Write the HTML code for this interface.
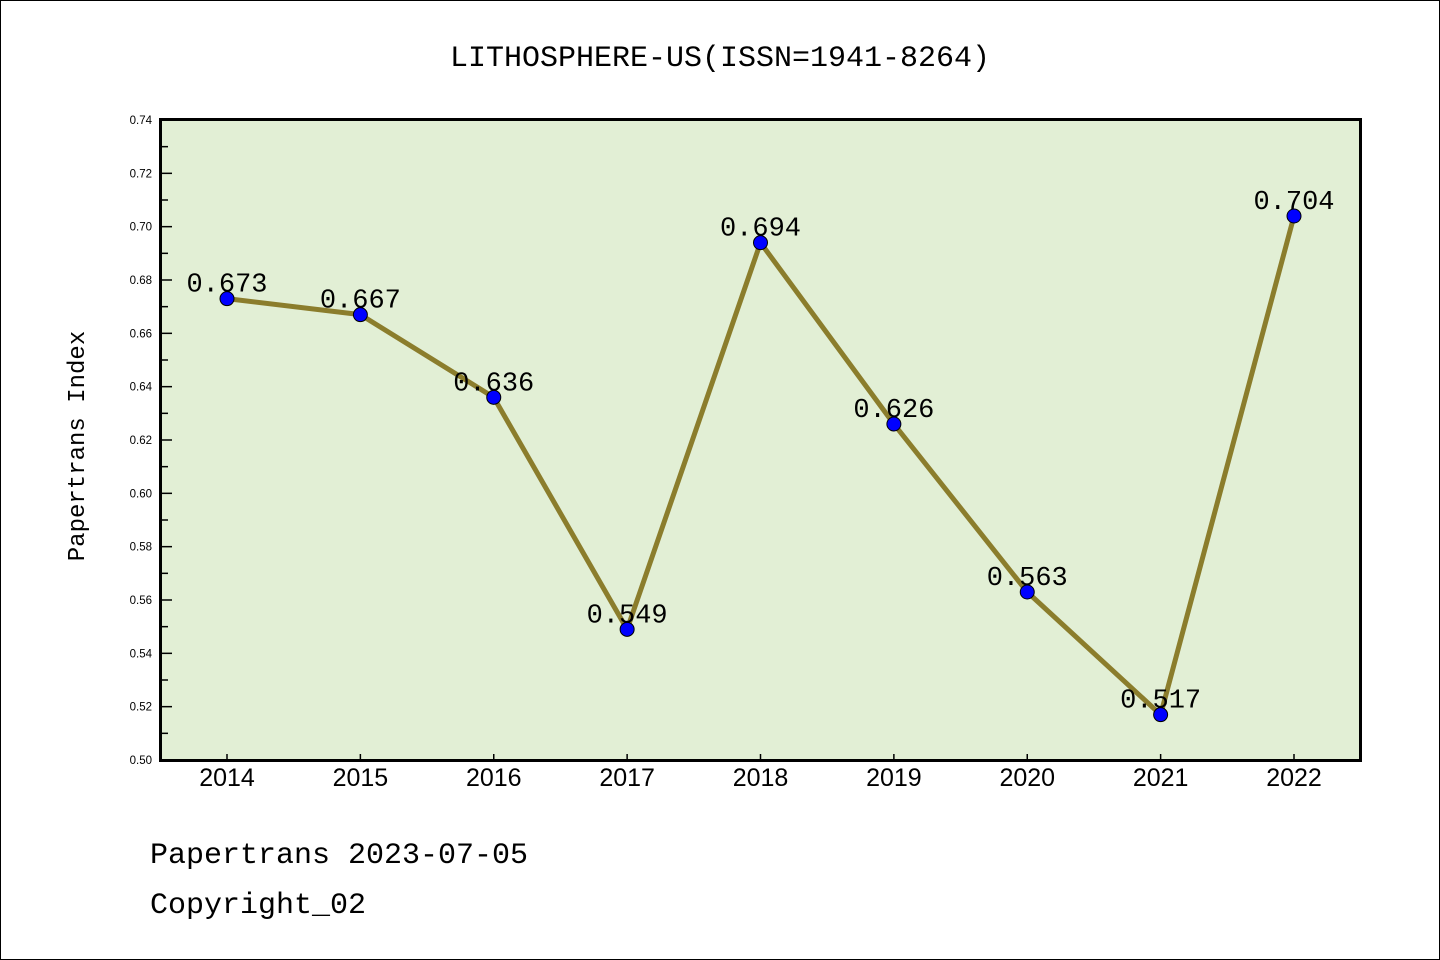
<!DOCTYPE html>
<html><head><meta charset="utf-8"><style>
body{margin:0;background:#fff}
svg{display:block}
text{font-family:"Liberation Sans","DejaVu Sans",sans-serif}
.mono{font-family:"Liberation Mono","DejaVu Sans Mono",monospace}
</style></head><body>
<svg id="chart" width="1440" height="960">
<rect x="0.5" y="0.5" width="1439" height="959" fill="#fff" stroke="#000"/>
<text class="mono" x="720" y="66" font-size="30" text-anchor="middle">LITHOSPHERE-US(ISSN=1941-8264)</text>
<rect x="160.5" y="119.5" width="1200" height="641" fill="#e2efd5"/>
<g id="ticks"></g>
<g id="series"></g>
<rect x="160.5" y="119.5" width="1200" height="641" fill="none" stroke="#000" stroke-width="3"/>
<text class="mono" x="84" y="446" font-size="24" text-anchor="middle" transform="rotate(-90 84 446)">Papertrans Index</text>
<text class="mono" x="150" y="863" font-size="30">Papertrans 2023-07-05</text>
<text class="mono" x="150" y="913" font-size="30">Copyright_02</text>
</svg>
<script>
const years = ['2014','2015','2016','2017','2018','2019','2020','2021','2022'];
const values = [0.673,0.667,0.636,0.549,0.694,0.626,0.563,0.517,0.704];
const valueLabels = ['0.673','0.667','0.636','0.549','0.694','0.626','0.563','0.517','0.704'];
const yTicks = ['0.50','0.52','0.54','0.56','0.58','0.60','0.62','0.64','0.66','0.68','0.70','0.72','0.74'];

const NS='http://www.w3.org/2000/svg';
const yMin=0.5,yMax=0.74,plotTop=120,plotBot=760;
function yS(v){return plotBot-(v-yMin)/(yMax-yMin)*(plotBot-plotTop);}
function xS(i){return 227+i*(1294-227)/(years.length-1);}
function mk(t,a,p){const e=document.createElementNS(NS,t);for(const k in a)e.setAttribute(k,a[k]);p.appendChild(e);return e;}
const tg=document.getElementById('ticks'),sg=document.getElementById('series');
yTicks.forEach((lab,i)=>{
  const v=parseFloat(lab),yy=yS(v);
  const t=mk('line',{x1:160,x2:172,y1:yy,y2:yy,stroke:'#000','stroke-width':1.5},tg);
  
  
  const tx=mk('text',{x:152,y:yy+4,'font-size':11.5,'text-anchor':'end'},tg);
  tx.textContent=lab;
  
  
  if(i<yTicks.length-1){
    const ym=yS(v+0.01);
    const m=mk('line',{x1:160,x2:168,y1:ym,y2:ym,stroke:'#000','stroke-width':1.5},tg);
    
    
  }
});
years.forEach((yr,i)=>{
  const m=mk('line',{x1:xS(i),x2:xS(i),y1:760,y2:754,stroke:'#000','stroke-width':1.5},tg);
  
  
  const tx=mk('text',{x:xS(i),y:786,'font-size':25,'text-anchor':'middle'},tg);
  tx.textContent=yr;
  
  
});
const pts=values.map((v,i)=>xS(i)+','+yS(v)).join(' ');
const pl=mk('polyline',{points:pts,fill:'none',stroke:'#8b7d2c','stroke-width':5,'stroke-linejoin':'round'},sg);


values.forEach((v,i)=>{
  const c=mk('circle',{cx:xS(i),cy:yS(v),r:7,fill:'#0000ff',stroke:'#000','stroke-width':1},sg);
  
  
  const t=mk('text',{x:xS(i),y:yS(v)-7,'font-size':27,'text-anchor':'middle',class:'mono'},sg);
  t.textContent=valueLabels[i];
  
  
});
</script>
</body></html>
